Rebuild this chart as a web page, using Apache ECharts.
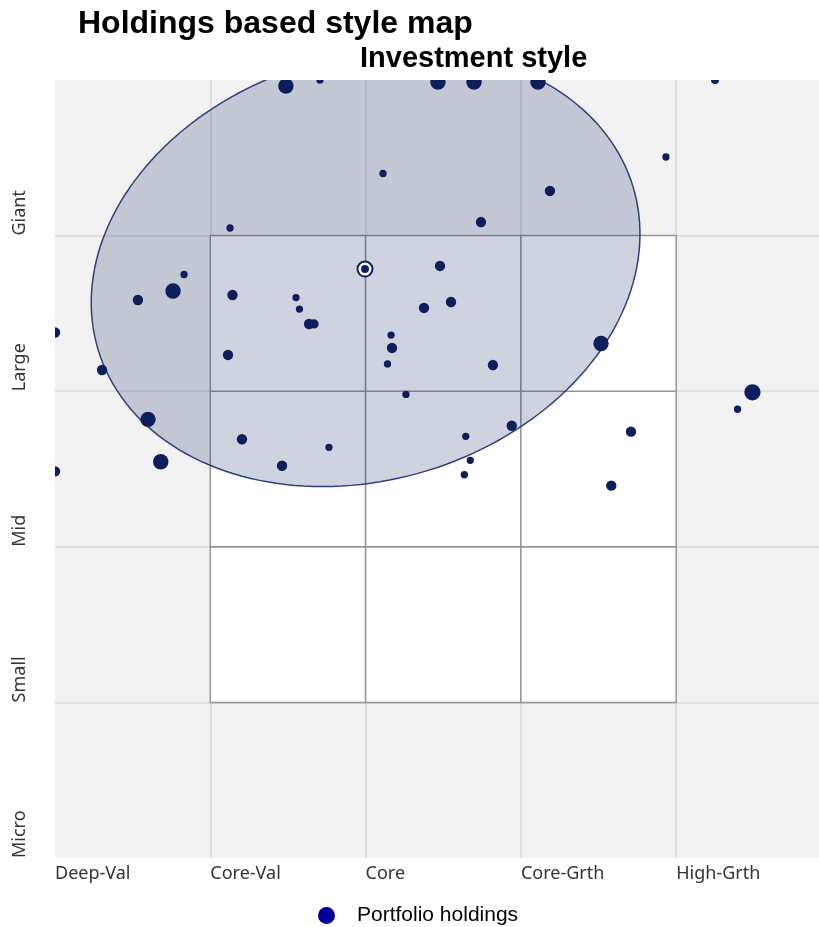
<!DOCTYPE html>
<html>
<head>
<meta charset="utf-8">
<script src="https://cdn.jsdelivr.net/npm/echarts@6/dist/echarts.min.js"></script>
<style>
  html, body { margin: 0; padding: 0; overflow: hidden; background: #fff; }
  #chart { width: 832px; height: 927px; }
</style>
</head>
<body>
<div id="chart"></div>
<script>
/* style axis categories, left to right */
var styleLabels = ['Deep-Val', 'Core-Val', 'Core', 'Core-Grth', 'High-Grth'];
/* size axis categories, bottom to top */
var sizeLabels = ['Micro', 'Small', 'Mid', 'Large', 'Giant'];

/* the 3 x 3 style box (lower-left corners of its cells) */
var boxCols = [1, 2, 3];
var boxRows = [1, 2, 3];

/* holdings: style score, size score, weight */
var holdingsX = [1.487, 1.706, 2.466, 2.698, 3.110, 4.250, 3.934, 2.112, 3.187, 2.743,
  1.127, 0.831, 0.760, 0.534, 1.143, 1.552, 1.574, 2.479, 2.550, 2.376,
  1.636, 1.668, 0.000, 2.164, 2.170, 1.114, 2.141, 3.516, 2.820, 0.303,
  2.260, 4.491, 4.395, 0.599, 2.941, 2.645, 3.709, 1.204, 1.764, 0.681,
  2.674, 1.462, 0.000, 2.636, 3.582];
var holdingsY = [4.961, 5.000, 4.987, 4.987, 4.987, 5.000, 4.505, 4.399, 4.287, 4.087,
  4.049, 3.750, 3.644, 3.586, 3.618, 3.602, 3.528, 3.805, 3.573, 3.535,
  3.432, 3.432, 3.377, 3.361, 3.278, 3.233, 3.175, 3.307, 3.168, 3.136,
  2.979, 2.993, 2.884, 2.819, 2.778, 2.710, 2.740, 2.691, 2.639, 2.547,
  2.556, 2.521, 2.485, 2.463, 2.393];
var holdingsWeight = [2.6, 0.75, 2.6, 2.6, 2.6, 0.9, 0.75, 0.75, 1.45, 1.45,
  0.75, 0.75, 2.6, 1.45, 1.45, 0.75, 0.75, 1.45, 1.45, 1.45,
  1.45, 1.2, 1.45, 0.75, 1.45, 1.45, 0.75, 2.6, 1.45, 1.45,
  0.75, 2.8, 0.75, 2.6, 1.45, 0.75, 1.45, 1.45, 0.75, 2.6,
  0.75, 1.45, 1.45, 0.75, 1.45];

/* portfolio centroid and its ownership zone (center x, center y, semi axes, tilt in degrees) */
var centroid = [1.996, 3.785];
var zone = [2.0, 3.79, 1.80, 1.36, 17];

var navy = '#0c1e5b';

var holdings = holdingsX.map(function (x, i) {
  return [x, holdingsY[i], holdingsWeight[i]];
});
var cells = [];
boxCols.forEach(function (c) {
  boxRows.forEach(function (r) { cells.push([c, r]); });
});

var chart = echarts.init(document.getElementById('chart'), null, { renderer: 'canvas' });

chart.setOption({
  animation: false,
  title: [{
    text: 'Holdings based style map',
    left: 78, top: 8, padding: 0,
    textStyle: { fontFamily: 'Liberation Sans, Arial', fontSize: 32, fontWeight: 'bold', color: '#000' }
  }, {
    text: 'Investment style',
    left: 360, top: 44, padding: 0,
    textStyle: { fontFamily: 'Liberation Sans, Arial', fontSize: 29, fontWeight: 'bold', color: '#000' }
  }],
  legend: {
    left: 318, top: 905, padding: 0,
    icon: 'circle', itemWidth: 17, itemHeight: 17,
    textStyle: { fontFamily: 'Liberation Sans, Arial', fontSize: 21, color: '#000', padding: [0, 0, 0, 17] },
    data: [{ name: 'Portfolio holdings', itemStyle: { color: '#000099' } }]
  },
  grid: {
    left: 55, top: 80, width: 776.5, height: 778,
    show: true, backgroundColor: '#f2f2f2', borderWidth: 0,
    outerBoundsMode: 'none'
  },
  xAxis: {
    type: 'value', min: 0, max: 5, interval: 1,
    axisLine: { show: false }, axisTick: { show: false },
    splitLine: { show: true, showMinLine: false, showMaxLine: false, lineStyle: { color: '#d9d9d9', width: 1.5 } },
    axisLabel: {
      align: 'left', margin: 7,
      fontFamily: 'Noto Sans', fontSize: 18, color: '#333',
      formatter: function (v) { return styleLabels[v] || ''; }
    }
  },
  yAxis: {
    type: 'value', min: 0, max: 5, interval: 1,
    axisLine: { show: false }, axisTick: { show: false },
    splitLine: { show: true, showMinLine: false, showMaxLine: false, lineStyle: { color: '#d9d9d9', width: 1.5 } },
    axisLabel: {
      rotate: 90, align: 'left', verticalAlign: 'middle', margin: 35,
      fontFamily: 'Noto Sans', fontSize: 18, color: '#333',
      formatter: function (v) { return sizeLabels[v] || ''; }
    }
  },
  series: [{
    // style box cells
    type: 'custom',
    name: 'box',
    silent: true,
    z: 1,
    data: cells,
    renderItem: function (params, api) {
      var p0 = api.coord([api.value(0), api.value(1) + 1]);
      var p1 = api.coord([api.value(0) + 1, api.value(1)]);
      return {
        type: 'rect',
        shape: { x: p0[0], y: p0[1], width: p1[0] - p0[0], height: p1[1] - p0[1] },
        style: { fill: '#fff', stroke: '#959595', lineWidth: 1.5 }
      };
    }
  }, {
    // ownership zone
    type: 'custom',
    name: 'zone',
    silent: true,
    clip: true,
    z: 2,
    data: [zone],
    renderItem: function (params, api) {
      var cx = api.value(0), cy = api.value(1), a = api.value(2), b = api.value(3);
      var th = api.value(4) * Math.PI / 180;
      var pts = [];
      for (var i = 0; i < 180; i++) {
        var t = i / 180 * Math.PI * 2;
        pts.push(api.coord([
          cx + a * Math.cos(t) * Math.cos(th) - b * Math.sin(t) * Math.sin(th),
          cy + a * Math.cos(t) * Math.sin(th) + b * Math.sin(t) * Math.cos(th)
        ]));
      }
      return {
        type: 'polygon',
        shape: { points: pts },
        style: { fill: 'rgba(15,35,95,0.2)', stroke: '#2d3f7c', lineWidth: 1.5 }
      };
    }
  }, {
    type: 'custom',
    name: 'Portfolio holdings',
    clip: true,
    z: 3,
    data: holdings,
    renderItem: function (params, api) {
      var p = api.coord([api.value(0), api.value(1)]);
      return {
        type: 'circle',
        shape: { cx: p[0], cy: p[1], r: 2 + 2.2 * api.value(2) },
        style: { fill: navy }
      };
    }
  }, {
    // centroid marker
    type: 'custom',
    name: 'centroid',
    silent: true,
    z: 4,
    data: [centroid],
    renderItem: function (params, api) {
      var p = api.coord([api.value(0), api.value(1)]);
      return {
        type: 'group',
        children: [{
          type: 'circle',
          shape: { cx: p[0], cy: p[1], r: 7.5 },
          style: { fill: '#fff', stroke: navy, lineWidth: 2 }
        }, {
          type: 'circle',
          shape: { cx: p[0], cy: p[1], r: 4 },
          style: { fill: navy }
        }]
      };
    }
  }]
});
</script>
</body>
</html>
